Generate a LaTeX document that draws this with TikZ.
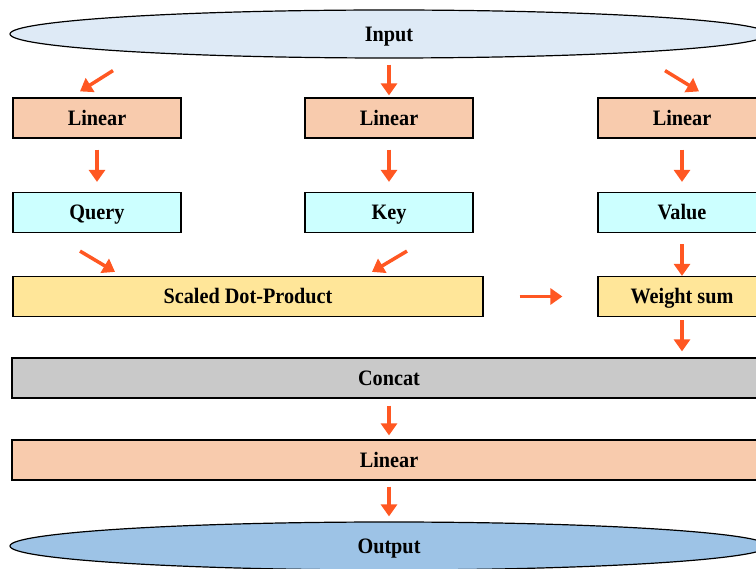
\documentclass[tikz,border=0pt]{standalone}
\usepackage{fontspec}
\setmainfont{Liberation Serif}[FakeStretch=0.92]
\usetikzlibrary{arrows.meta,shapes.geometric}
\definecolor{infill}{RGB}{222,234,246}
\definecolor{outfill}{RGB}{157,195,230}
\definecolor{linfill}{RGB}{248,203,173}
\definecolor{qkvfill}{RGB}{204,255,255}
\definecolor{attfill}{RGB}{255,230,153}
\definecolor{catfill}{RGB}{201,201,201}
\definecolor{flowcol}{RGB}{255,87,34}
\tikzset{
	io/.style      = {draw, ellipse, minimum width=758pt, minimum height=48pt, line width=1.2pt, text height=14.5pt, text depth=0pt},
	block/.style   = {draw, rectangle, minimum height=40pt, minimum width=168pt, line width=1.2pt, text height=14.5pt, text depth=0pt},
	linear/.style  = {block, fill=linfill},
	feature/.style = {block, fill=qkvfill},
	attn/.style    = {block, fill=attfill},
	wide/.style    = {block, minimum width=754pt},
	flow/.style    = {draw=flowcol, line width=3.5pt, -{Triangle[length=12pt, width=16pt]}},
}

\begin{document}
\begin{tikzpicture}[auto, font=\bfseries\fontsize{22}{26}\selectfont]
		% Page size, anything past the right edge is cut off
		\useasboundingbox (0,0) rectangle (756pt,-569pt);
		\clip (0,0) rectangle (756pt,-569pt);

		% Draw the input and the three projection branches
		\draw
			node[io     , fill=infill] (input) at (389pt,-34pt) {Input}
			node[linear , below of = input, node distance = 84pt  ] (lin2) {Linear}
			node[linear , left of  = lin2 , node distance = 292pt ] (lin1) {Linear}
			node[linear , right of = lin2 , node distance = 293pt ] (lin3) {Linear}
			node[feature, below of = lin2 , node distance = 94.5pt] (key) {Key}
			node[feature, left of  = key  , node distance = 292pt ] (query) {Query}
			node[feature, right of = key  , node distance = 293pt ] (value) {Value};

		% Draw the attention stage and the output side
		\draw
			node[attn, below of = value , node distance = 84pt] (weight) {Weight sum}
			node[attn, left of  = weight, node distance = 434pt, minimum width = 470pt] (sdp) {Scaled Dot-Product}
			node[wide, fill=catfill, below of = key   , node distance = 165.5pt] (concat) {Concat}
			node[wide, fill=linfill, below of = concat, node distance = 82pt   ] (lin4) {Linear}
			node[io  , fill=outfill, below of = lin4  , node distance = 86pt   ] (output) {Output};

		% Connect everything together
		\draw[flow] ([shift={(-276pt,-12pt)}]input.south) -- ([shift={(-17pt,6pt)}]lin1.north);
		\draw[flow, shorten <=6pt, shorten >=2pt] (input) -- (lin2);
		\draw[flow] ([shift={(276pt,-12pt)}]input.south) -- ([shift={(17pt,6pt)}]lin3.north);

		\draw[flow, shorten <=11pt, shorten >=10pt] (lin1) -- (query);
		\draw[flow, shorten <=11pt, shorten >=10pt] (lin2) -- (key);
		\draw[flow, shorten <=11pt, shorten >=10pt] (lin3) -- (value);

		\draw[flow] ([shift={(-17pt,-18pt)}]query.south) -- ([shift={(-133pt,4pt)}]sdp.north);
		\draw[flow] ([shift={(18pt,-18pt)}]key.south) -- ([shift={(124pt,4pt)}]sdp.north);
		\draw[flow, shorten <=11pt] (value) -- (weight);
		\draw[flow, shorten <=36pt, shorten >=35pt] (sdp) -- (weight);

		\draw[flow, shorten <=3pt, shorten >=6pt] (weight.south) -- (weight.south |- concat.north);
		\draw[flow, shorten <=7pt, shorten >=4pt] (concat) -- (lin4);
		\draw[flow, shorten <=6pt, shorten >=5pt] (lin4) -- (output);
	\end{tikzpicture}
\end{document}
